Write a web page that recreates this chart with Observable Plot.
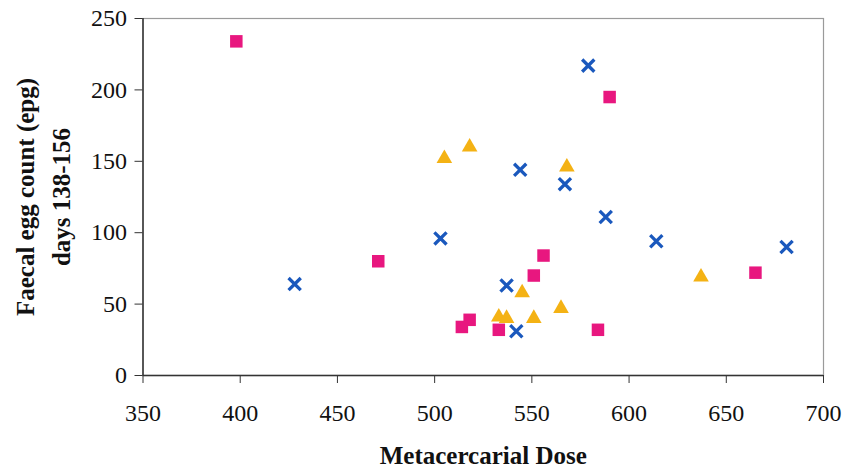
<!DOCTYPE html>
<html>
<head>
<meta charset="utf-8">
<script src="https://cdn.jsdelivr.net/npm/d3@7"></script>
<script src="https://cdn.jsdelivr.net/npm/@observablehq/plot@0.6"></script>
<style>
  html, body { margin: 0; padding: 0; background: #fff; }
  #chart { width: 847px; height: 472px; }
</style>
</head>
<body>
<div id="chart"></div>
<script>
// Series A: pink squares
const squareDose = [398, 590, 471, 556, 551, 665, 518, 514, 533, 584];
const squareEpg  = [234, 195, 80, 84, 70, 72, 39, 34, 32, 32];
// Series B: blue crosses
const crossDose = [579, 544, 567, 588, 503, 614, 681, 537, 542, 428];
const crossEpg  = [217, 144, 134, 111, 96, 94, 90, 63, 31, 64];
// Series C: gold triangles
const triDose = [505, 518, 568, 637, 545, 565, 551, 533, 537];
const triEpg  = [152, 160, 146, 69, 58, 47, 40, 41, 40];

const xTicks = [350, 400, 450, 500, 550, 600, 650, 700];
const yTicks = [0, 50, 100, 150, 200, 250];

const xTitle = "Metacercarial Dose";
const yTitle = "Faecal egg count (epg)\ndays 138-156";

const toRows = (xs, ys) => xs.map((x, i) => ({x, y: ys[i]}));
const squares = toRows(squareDose, squareEpg);
const crosses = toRows(crossDose, crossEpg);
const triangles = toRows(triDose, triEpg);

const font = "'Liberation Serif', 'Times New Roman', serif";

const chart = Plot.plot({
  width: 847,
  height: 472,
  marginLeft: 142.5,
  marginRight: 24,
  marginTop: 18,
  marginBottom: 97,
  style: {fontFamily: font, fontSize: "24px", color: "#111", background: "#fff"},
  x: {domain: [350, 700]},
  y: {domain: [0, 250]},
  marks: [
    Plot.frame({stroke: "#9a9a9a", strokeWidth: 1.2}),
    Plot.axisX({ticks: xTicks, tickSize: 8, tickFormat: () => "", label: null, stroke: "#333"}),
    Plot.axisY({ticks: yTicks, tickSize: 8, tickFormat: () => "", label: null, stroke: "#333"}),
    Plot.text(xTicks, {x: d => d, frameAnchor: "bottom", dy: 38, textAnchor: "middle", lineAnchor: "middle",
      fontSize: 24, fill: "#111", text: d => String(d)}),
    Plot.text(yTicks, {y: d => d, frameAnchor: "left", dx: -16, textAnchor: "end", lineAnchor: "middle",
      fontSize: 24, fill: "#111", text: d => String(d)}),
    Plot.ruleY([0], {stroke: "#333", strokeWidth: 1.5}),
    Plot.ruleX([350], {stroke: "#333", strokeWidth: 1.5}),
    Plot.dot(squares, {x: "x", y: "y", symbol: "square", r: 7.05, fill: "#e8177f", stroke: "none"}),
    Plot.dot(triangles, {x: "x", y: "y", symbol: "triangle", r: 5.8, fill: "#f4b214", stroke: "none"}),
    Plot.dot(crosses, {x: "x", y: "y", symbol: "times", r: 5.6, stroke: "#1a58bd", strokeWidth: 3.3}),
    Plot.text([xTitle], {frameAnchor: "bottom", dy: 80, textAnchor: "middle", lineAnchor: "middle",
      fontSize: 25, fontWeight: "bold", fill: "#111"}),
    Plot.text([yTitle], {frameAnchor: "left", dx: -102.5, rotate: -90, textAnchor: "middle", lineAnchor: "middle",
      lineHeight: 1.45, fontSize: 25, fontWeight: "bold", fill: "#111"})
  ]
});
document.getElementById("chart").appendChild(chart);
</script>
</body>
</html>
